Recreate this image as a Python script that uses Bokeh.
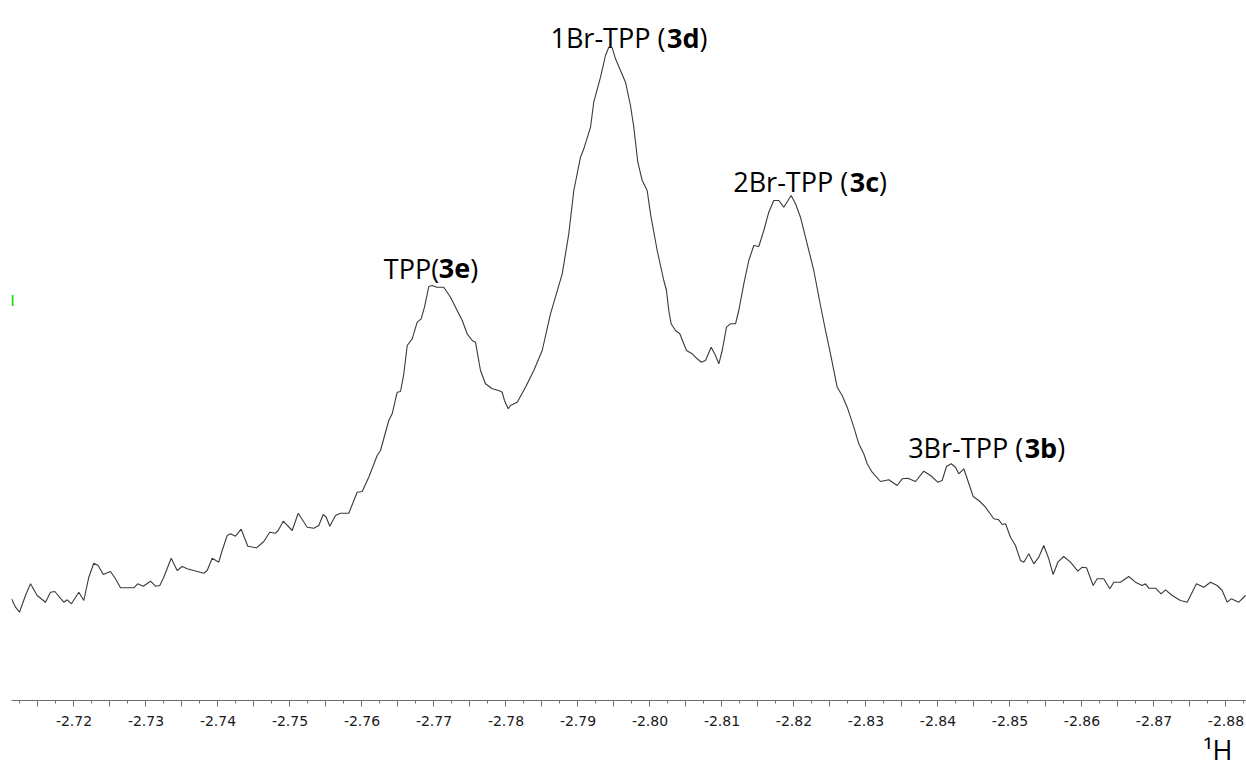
from bokeh.plotting import figure
from bokeh.models import Range1d, LinearAxis, FixedTicker, Title, ColumnDataSource
from bokeh.core.properties import value
from bokeh.embed import file_html
from bokeh.resources import INLINE

# ---- spectrum data (chemical shift in ppm, intensity in arbitrary units) ----
PPM = [
    -2.71132, -2.71188, -2.71243, -2.71326, -2.71396, -2.71489, -2.71604, -2.71674, -2.71733, -2.71858,
    -2.71906, -2.71965, -2.72067, -2.72136, -2.72206, -2.72275, -2.72336, -2.72406, -2.72507, -2.72576,
    -2.72646, -2.72831, -2.72886, -2.72961, -2.73063, -2.73132, -2.73192, -2.73247, -2.73350, -2.73433,
    -2.73503, -2.73572, -2.73803, -2.73850, -2.73919, -2.74011, -2.74058, -2.74128, -2.74174, -2.74243,
    -2.74322, -2.74414, -2.74535, -2.74636, -2.74719, -2.74799, -2.74836, -2.74906, -2.75031, -2.75114,
    -2.75239, -2.75331, -2.75400, -2.75461, -2.75503, -2.75553, -2.75632, -2.75701, -2.75817, -2.75933,
    -2.76003, -2.76094, -2.76211, -2.76257, -2.76372, -2.76419, -2.76489, -2.76535, -2.76581, -2.76628,
    -2.76697, -2.76767, -2.76822, -2.76868, -2.76928, -2.76975, -2.77035, -2.77136, -2.77229, -2.77392,
    -2.77461, -2.77531, -2.77576, -2.77646, -2.77715, -2.77808, -2.77900, -2.77947, -2.77979, -2.78031,
    -2.78063, -2.78156, -2.78271, -2.78386, -2.78503, -2.78618, -2.78781, -2.78872, -2.78942, -2.79035,
    -2.79081, -2.79174, -2.79219, -2.79313, -2.79382, -2.79428, -2.79475, -2.79521, -2.79590, -2.79660,
    -2.79729, -2.79775, -2.79831, -2.79892, -2.79961, -2.80007, -2.80100, -2.80192, -2.80229, -2.80261,
    -2.80294, -2.80354, -2.80414, -2.80479, -2.80507, -2.80586, -2.80656, -2.80715, -2.80771, -2.80850,
    -2.80910, -2.80956, -2.81003, -2.81063, -2.81118, -2.81188, -2.81233, -2.81303, -2.81372, -2.81442,
    -2.81511, -2.81581, -2.81650, -2.81719, -2.81789, -2.81858, -2.81961, -2.82021, -2.82090, -2.82183,
    -2.82275, -2.82368, -2.82438, -2.82507, -2.82600, -2.82669, -2.82739, -2.82831, -2.82900, -2.82969,
    -2.83017, -2.83086, -2.83201, -2.83317, -2.83433, -2.83503, -2.83581, -2.83688, -2.83803, -2.83896,
    -2.83997, -2.84058, -2.84118, -2.84183, -2.84243, -2.84289, -2.84358, -2.84406, -2.84489, -2.84567,
    -2.84660, -2.84775, -2.84844, -2.84892, -2.84938, -2.85007, -2.85076, -2.85146, -2.85192, -2.85261,
    -2.85331, -2.85400, -2.85469, -2.85539, -2.85600, -2.85664, -2.85747, -2.85840, -2.85942, -2.86003,
    -2.86063, -2.86156, -2.86211, -2.86303, -2.86386, -2.86442, -2.86535, -2.86650, -2.86743, -2.86836,
    -2.86882, -2.86928, -2.87021, -2.87100, -2.87160, -2.87253, -2.87368, -2.87461, -2.87590, -2.87692,
    -2.87785, -2.87878, -2.87947, -2.88017, -2.88072, -2.88178, -2.88271,
]
INTENSITY = [
    101.7, 93.3, 88.3, 105.0, 116.7, 105.0, 98.3, 108.3, 109.0, 98.3,
    100.7, 96.7, 108.3, 100.0, 123.3, 137.3, 135.0, 126.0, 129.0, 121.7,
    112.7, 112.7, 116.7, 114.3, 119.3, 114.3, 115.0, 123.3, 142.3, 130.0,
    134.0, 131.7, 127.3, 130.0, 142.3, 138.3, 150.0, 165.0, 166.7, 164.3,
    171.3, 154.3, 152.7, 159.0, 168.3, 167.3, 170.0, 179.3, 170.0, 187.3,
    173.3, 172.3, 175.0, 186.0, 183.3, 174.3, 185.0, 187.3, 187.3, 208.3,
    209.0, 223.3, 245.0, 250.0, 280.0, 286.7, 308.3, 309.0, 326.7, 355.0,
    361.7, 378.3, 381.7, 393.3, 414.0, 415.0, 413.3, 413.3, 403.3, 380.0,
    366.7, 360.0, 358.3, 330.0, 316.7, 311.7, 310.0, 308.3, 300.0, 291.7,
    295.0, 298.3, 313.3, 330.0, 350.0, 386.7, 426.7, 466.7, 510.0, 543.3,
    551.7, 573.3, 598.3, 623.3, 645.0, 653.3, 652.7, 641.7, 630.0, 618.3,
    595.0, 573.3, 538.3, 520.0, 510.0, 486.7, 450.0, 420.0, 410.0, 390.0,
    376.7, 370.0, 366.7, 355.0, 350.0, 346.7, 341.7, 338.3, 340.0, 353.3,
    345.0, 336.7, 350.0, 373.3, 376.7, 376.7, 390.0, 416.7, 440.0, 455.0,
    454.0, 470.0, 488.3, 500.0, 500.0, 493.3, 505.0, 496.7, 483.3, 456.7,
    430.0, 395.0, 370.0, 346.7, 313.3, 305.0, 293.3, 273.3, 256.7, 246.7,
    236.7, 228.3, 219.0, 220.7, 215.0, 221.7, 222.3, 219.0, 229.3, 225.0,
    218.3, 220.0, 234.0, 236.7, 233.3, 226.7, 231.7, 221.7, 204.0, 200.0,
    193.3, 181.7, 180.7, 176.0, 176.7, 163.3, 155.0, 140.0, 138.3, 146.7,
    136.7, 143.3, 155.0, 141.7, 126.0, 138.3, 144.0, 138.3, 129.3, 133.3,
    132.7, 115.0, 121.7, 121.7, 111.7, 118.3, 118.3, 124.0, 118.3, 115.0,
    116.7, 112.3, 112.3, 106.7, 110.7, 105.0, 100.0, 98.3, 116.7, 113.3,
    118.3, 115.0, 110.0, 98.3, 101.7, 98.3, 105.0,
]

# ---- peak annotations ----
LABEL_PPM = [-2.76303, -2.78618, -2.81156, -2.83586]
LABEL_INTENSITY = [431.7, 662.7, 519.3, 253.3]
LABEL_PREFIX = ["TPP(", "1Br-TPP (", "2Br-TPP (", "3Br-TPP ("]
LABEL_BOLD = ["3e", "3d", "3c", "3b"]
LABEL_SUFFIX = [")", ")", ")", ")"]

# ---- axis ticks ----
TICK_VALUES = [-2.71, -2.72, -2.73, -2.74, -2.75, -2.76, -2.77, -2.78, -2.79,
               -2.80, -2.81, -2.82, -2.83, -2.84, -2.85, -2.86, -2.87, -2.88, -2.89]
TICK_LABELS = ["-2.71", "-2.72", "-2.73", "-2.74", "-2.75", "-2.76", "-2.77", "-2.78", "-2.79",
               "-2.80", "-2.81", "-2.82", "-2.83", "-2.84", "-2.85", "-2.86", "-2.87", "-2.88", "-2.89"]
AXIS_TITLE = "\u00b9H"

# ---- styling / placement ----
BOLD_OFFSET = [55.0, 116.5, 116.5, 116.5]      # px after label start
SUFFIX_OFFSET = [86.4, 149.1, 145.7, 149.1]    # px after label start
FONT = "Open Sans"
MARK_PPM = -2.71146
MARK_INTENSITY = 400

X_START, X_END = -2.71132, -2.88285

p = figure(width=1246, height=775, output_backend="svg", toolbar_location=None,
           x_range=Range1d(X_START, X_END), y_range=Range1d(0, 700),
           x_axis_location=None, y_axis_location=None,
           min_border_left=11, min_border_right=0, min_border_top=0, min_border_bottom=75)
p.outline_line_color = None
p.background_fill_color = "white"
p.border_fill_color = "white"
p.xgrid.visible = False
p.ygrid.visible = False
p.grid.grid_line_color = None

# axis with half-step major ticks (unlabelled) and quarter-step minor ticks
half = [round((a + b) / 2, 4) for a, b in zip(TICK_VALUES[:-1], TICK_VALUES[1:])]
majors = sorted(TICK_VALUES + half)
minors = [round((a + b) / 2, 5) for a, b in zip(majors[:-1], majors[1:])]
overrides = {v: l for v, l in zip(TICK_VALUES, TICK_LABELS)}
overrides.update({v: "" for v in half})

xaxis = LinearAxis(ticker=FixedTicker(ticks=majors, minor_ticks=minors),
                   major_label_overrides=overrides)
xaxis.axis_line_color = "#6e6e6e"
xaxis.axis_line_width = 1
xaxis.major_tick_line_color = "#6e6e6e"
xaxis.minor_tick_line_color = "#6e6e6e"
xaxis.major_tick_in = 0
xaxis.major_tick_out = 6
xaxis.minor_tick_in = 0
xaxis.minor_tick_out = 3
xaxis.major_label_text_font = "DejaVu Sans"
xaxis.major_label_text_font_size = "14px"
xaxis.major_label_text_color = "#1a1a1a"
xaxis.major_label_standoff = 9
p.add_layout(xaxis, "below")

# nucleus label below the axis, right aligned
p.add_layout(Title(text=AXIS_TITLE, align="right", offset=14, standoff=0,
                   text_font=FONT, text_font_size="27px", text_font_style="normal",
                   text_color="black"), "below")

# spectrum
p.line(PPM, INTENSITY, line_color="#3a3a3a", line_width=1.1)

# small green marker near the left edge
p.rect(x=[MARK_PPM], y=[MARK_INTENSITY], width=2, height=11, width_units="screen",
       fill_color="#1fd81f", line_color=None)

# labels made of regular + bold + regular pieces
src = ColumnDataSource(dict(x=LABEL_PPM, y=LABEL_INTENSITY, pre=LABEL_PREFIX,
                            bold=LABEL_BOLD, suf=LABEL_SUFFIX,
                            bo=BOLD_OFFSET, so=SUFFIX_OFFSET))
common = dict(text_font=value(FONT), text_font_size="27px", text_color="black",
              text_baseline="alphabetic", text_align="left")
p.text(x="x", y="y", text="pre", source=src, text_font_style="normal", **common)
p.text(x="x", y="y", text="bold", x_offset="bo", source=src, text_font_style="bold", **common)
p.text(x="x", y="y", text="suf", x_offset="so", source=src, text_font_style="normal", **common)

open("out.html", "w").write(file_html(p, INLINE))
